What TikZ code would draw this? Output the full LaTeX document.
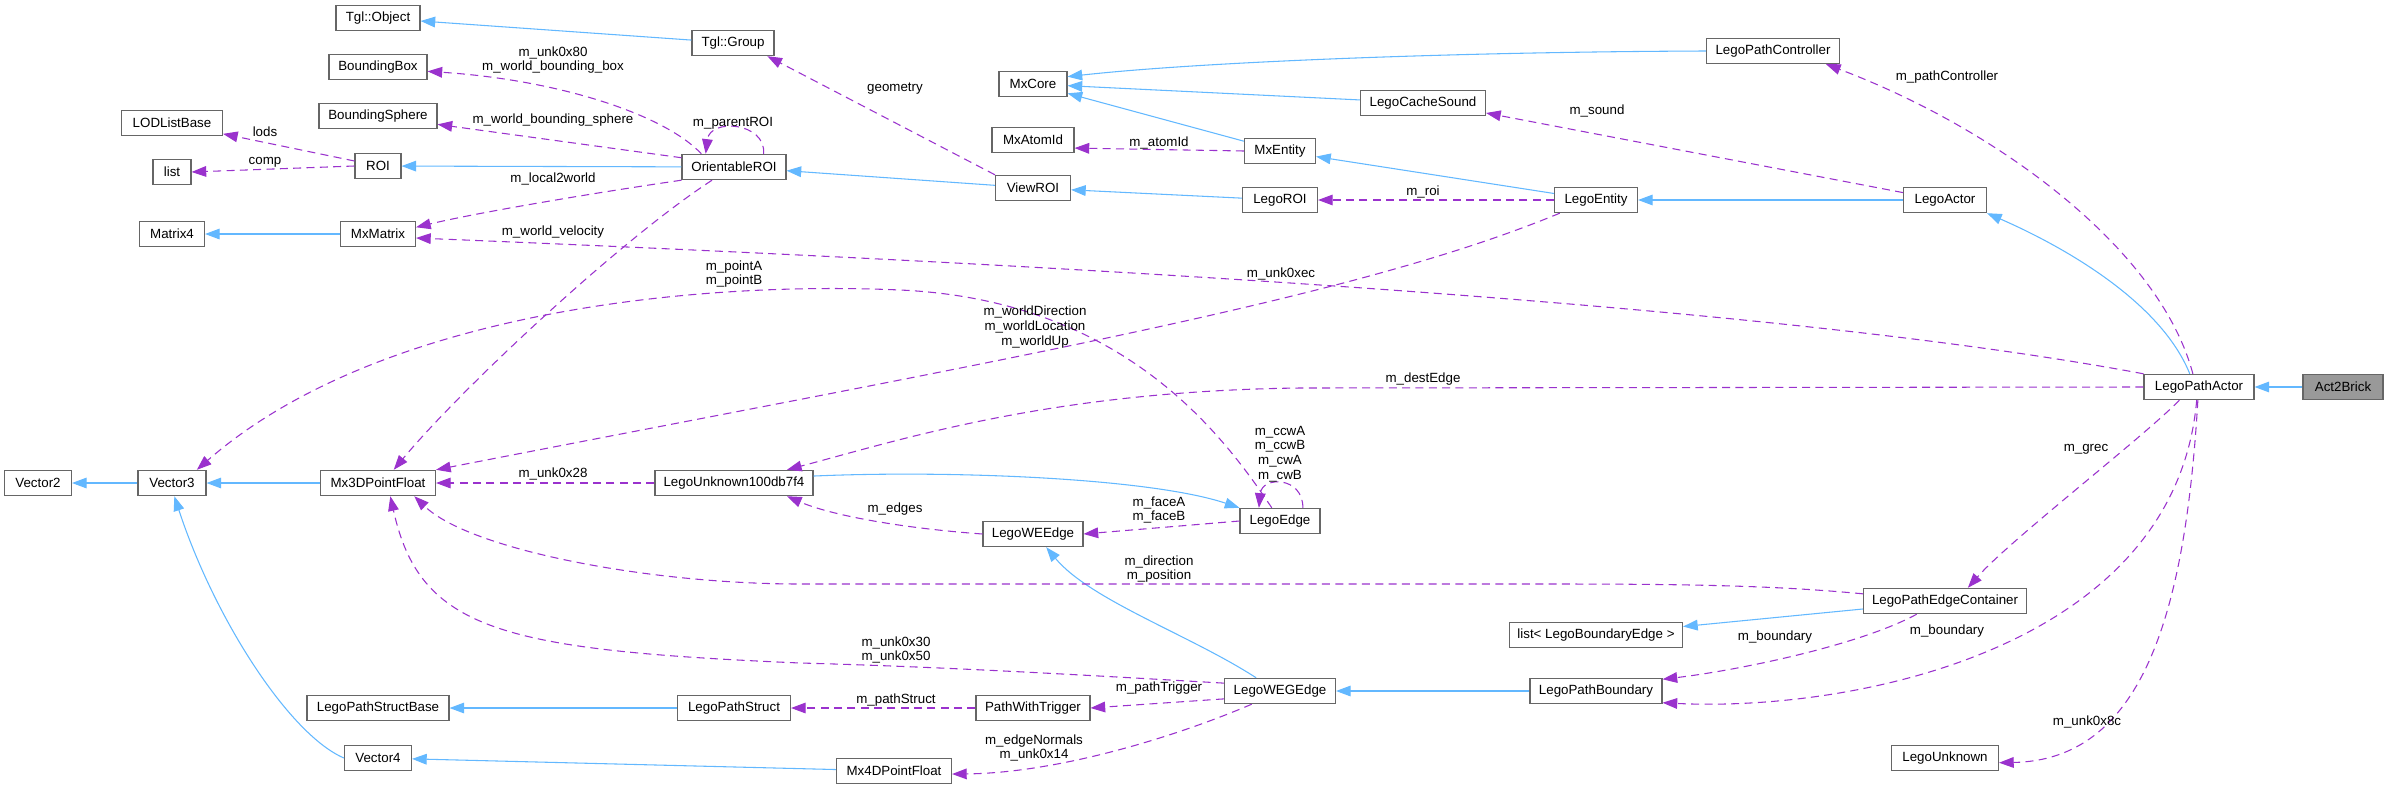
\documentclass[tikz,border=0pt]{standalone}
\usepackage{fontspec}
\setmainfont{Liberation Sans}
\usepackage{tikz}
\usetikzlibrary{arrows.meta}
\definecolor{edgeblue}{HTML}{63B8FF}
\definecolor{edgepurple}{HTML}{9A32CD}
\definecolor{boxgray}{HTML}{666666}
\definecolor{curgray}{HTML}{999999}
\tikzset{
  classnode/.style = {rectangle, draw=boxgray, fill=white, inner sep=0pt,
    align=center, font=\fontsize{10}{12}\selectfont,
    minimum height=19pt, minimum width=#1*0.75pt},
  classnode_cur/.style = {classnode=#1, fill=curgray},% the documented class
  inh/.style = {draw=edgeblue},% base class
  memb/.style = {draw=edgepurple, dash pattern=on 6pt off 4pt},% member
  elabel/.style = {font=\fontsize{10}{11}\selectfont, align=center,
    inner sep=0pt}
}
\begin{document}
\begin{tikzpicture}[x=0.75pt, y=-0.75pt, line width=0.8pt,
  ->, >={Triangle[length=11pt,width=8pt]}]
\useasboundingbox (0,0) rectangle (2387,789);
% classes
\node [classnode=84]  (tglobject)   at (378,18)  {Tgl::Object};
\node [classnode=82]  (tglgroup)    at (733,43)  {Tgl::Group};
\node [classnode=98]  (boundingbox) at (378,67)  {BoundingBox};
\node [classnode=118] (boundingsphere) at (378,116) {BoundingSphere};
\node [classnode=101] (lodlistbase) at (172,123) {LODListBase};
\node [classnode=38]  (list)        at (172,172) {list};
\node [classnode=46]  (roi)         at (378,166) {ROI};
\node [classnode=104] (orientableroi) at (734,167) {OrientableROI};
\node [classnode=65]  (matrix4)     at (172,234) {Matrix4};
\node [classnode=75]  (mxmatrix)    at (378,234) {MxMatrix};
\node [classnode=67]  (vector2)     at (38,483)  {Vector2};
\node [classnode=68]  (vector3)     at (172,483) {Vector3};
\node [classnode=115] (mx3d)        at (378,483) {Mx3DPointFloat};
\node [classnode=158] (legounk100)  at (734,483) {LegoUnknown100db7f4};
\node [classnode=142] (legopathstructbase) at (378,708) {LegoPathStructBase};
\node [classnode=113] (legopathstruct) at (734,708) {LegoPathStruct};
\node [classnode=67]  (vector4)     at (378,758) {Vector4};
\node [classnode=68]  (mxcore)      at (1033,84) {MxCore};
\node [classnode=125] (legocachesound) at (1423,103) {LegoCacheSound};
\node [classnode=82]  (mxatomid)    at (1033,140) {MxAtomId};
\node [classnode=71]  (mxentity)    at (1280,151) {MxEntity};
\node [classnode=75]  (viewroi)     at (1033,188) {ViewROI};
\node [classnode=75]  (legoroi)     at (1280,200) {LegoROI};
\node [classnode=83]  (legoentity)  at (1596,200) {LegoEntity};
\node [classnode=133] (legopathcontroller) at (1773,51) {LegoPathController};
\node [classnode=83]  (legoactor)   at (1945,200) {LegoActor};
\node [classnode=110] (legopathactor) at (2199,387) {LegoPathActor};
\node [classnode_cur=80] (act2brick) at (2343,387) {Act2Brick};
\node [classnode=80]  (legoedge)    at (1280,521) {LegoEdge};
\node [classnode=100] (legoweedge)  at (1033,534) {LegoWEEdge};
\node [classnode=173] (listlbe)     at (1596,635) {list< LegoBoundaryEdge >};
\node [classnode=111] (legowegedge) at (1280,691) {LegoWEGEdge};
\node [classnode=114] (pathwithtrigger) at (1033,708) {PathWithTrigger};
\node [classnode=115] (mx4d)        at (894,771) {Mx4DPointFloat};
\node [classnode=132] (legopathboundary) at (1596,691) {LegoPathBoundary};
\node [classnode=163] (legopathedgecontainer) at (1945,601) {LegoPathEdgeContainer};
\node [classnode=107] (legounknown) at (1945,758) {LegoUnknown};
% inheritance
\draw [inh] (tglgroup) -- (tglobject);
\draw [inh] (orientableroi) -- (roi);
\draw [inh] (mxmatrix) -- (matrix4);
\draw [inh] (vector3) -- (vector2);
\draw [inh] (mx3d) -- (vector3);
\draw [inh] (vector4.west) .. controls (290,735) and (215,620) .. (vector3.-80);
\draw [inh] (legopathstruct) -- (legopathstructbase);
\draw [inh] (mx4d) -- (vector4);
\draw [inh] (viewroi) -- (orientableroi);
\draw [inh] (legoroi) -- (viewroi);
\draw [inh] (mxentity) -- (mxcore);
\draw [inh] (legocachesound) -- (mxcore);
\draw [inh] (legopathcontroller.west) .. controls (1450,52) and (1200,62) .. (mxcore.12);
\draw [inh] (legoentity) -- (mxentity);
\draw [inh] (legoactor) -- (legoentity);
\draw [inh] (legopathactor.125) .. controls (2160,300) and (2060,245) .. (legoactor.south east);
\draw [inh] (act2brick) -- (legopathactor);
\draw [inh] (legounk100.5) .. controls (950,470) and (1150,478) .. (legoedge.north west);
\draw [inh] (legowegedge.151) .. controls (1190,635) and (1090,600) .. (legoweedge.-45);
\draw [inh] (legopathboundary) -- (legowegedge);
\draw [inh] (legopathedgecontainer) -- (listlbe);
% members
\draw [memb] (orientableroi.158) .. controls (665,115) and (560,80) .. (boundingbox.-5);
\draw [memb] (orientableroi.170) -- (boundingsphere.-8);
\draw [memb] (orientableroi.24) .. controls (766,122) and (710,118) .. (orientableroi.155);
\draw [memb] (roi.168) -- (lodlistbase.-12);
\draw [memb] (roi.west) -- (list.east);
\draw [memb] (orientableroi.south west) .. controls (600,192) and (480,212) .. (mxmatrix.10);
\draw [memb] (orientableroi.-149) .. controls (620,240) and (460,390) .. (mx3d.40);
\draw [memb] (legopathactor.north west) .. controls (1750,300) and (1000,262) .. (mxmatrix.-6);
\draw [memb] (legoedge.122) .. controls (1220,430) and (1120,300) .. (900,290)
  .. controls (700,281) and (380,310) .. (vector3.28);
\draw [memb] (viewroi.north west) -- (tglgroup.-21);
\draw [memb] (mxentity.west) -- (mxatomid.-11);
\draw [memb] (legoentity) -- (legoroi);
\draw [memb] (legoactor.170) -- (legocachesound.-9);
\draw [memb] (legopathactor.115) .. controls (2160,250) and (2000,130) .. (legopathcontroller.-14);
\draw [memb] (legoentity.-160) .. controls (1350,300) and (1000,360) .. (mx3d.north east);
\draw [memb] (legopathactor.west) -- (1300,388)
  .. controls (1050,391) and (900,440) .. (legounk100.14);
\draw [memb] (legoedge.30) .. controls (1303,476) and (1262,476) .. (legoedge.148);
\draw [memb] (legounk100) -- (mx3d);
\draw [memb] (legoweedge.west) .. controls (900,528) and (830,515) .. (legounk100.-14);
\draw [memb] (legoedge.west) -- (legoweedge.east);
\draw [memb] (legopathedgecontainer.175) .. controls (1780,586) and (1700,584) .. (1550,584)
  -- (800,584) .. controls (650,584) and (470,550) .. (mx3d.-20);
\draw [memb] (legowegedge.172) .. controls (1100,676) and (950,667) .. (800,663)
  .. controls (500,650) and (420,630) .. (mx3d.-47);
\draw [memb] (legowegedge.-172) -- (pathwithtrigger.east);
\draw [memb] (pathwithtrigger) -- (legopathstruct);
\draw [memb] (legowegedge.-155) .. controls (1180,735) and (1060,773) .. (mx4d.-3);
\draw [memb] (legopathactor.-146) .. controls (2140,440) and (2010,540) .. (legopathedgecontainer.30);
\draw [memb] (legopathedgecontainer.-155) .. controls (1860,645) and (1740,670) .. (legopathboundary.10);
\draw [memb] (legopathactor.-100) .. controls (2175,650) and (1850,712) .. (legopathboundary.-10);
\draw [memb] (legopathactor.-95) .. controls (2185,620) and (2140,760) .. (legounknown.-5);
% member labels
\node [elabel] (l_bbox)     at (553,60)   {m\_unk0x80\\m\_world\_bounding\_box};
\node [elabel] (l_bsphere)  at (553,120)  {m\_world\_bounding\_sphere};
\node [elabel] (l_parent)   at (733,123)  {m\_parentROI};
\node [elabel] (l_lods)     at (265,132)  {lods};
\node [elabel] (l_comp)     at (265,162)  {comp};
\node [elabel] (l_local)    at (553,179)  {m\_local2world};
\node [elabel] (l_velocity) at (553,232)  {m\_world\_velocity};
\node [elabel] (l_unkec)    at (1281,274) {m\_unk0xec};
\node [elabel] (l_points)   at (734,274)  {m\_pointA\\m\_pointB};
\node [elabel] (l_geometry) at (895,89)   {geometry};
\node [elabel] (l_atomid)   at (1159,143) {m\_atomId};
\node [elabel] (l_roi)      at (1423,192) {m\_roi};
\node [elabel] (l_sound)    at (1597,111) {m\_sound};
\node [elabel] (l_pathctl)  at (1947,77)  {m\_pathController};
\node [elabel] (l_world)    at (1035,327) {m\_worldDirection\\m\_worldLocation\\m\_worldUp};
\node [elabel] (l_dest)     at (1423,379) {m\_destEdge};
\node [elabel] (l_ccw)      at (1280,454) {m\_ccwA\\m\_ccwB\\m\_cwA\\m\_cwB};
\node [elabel] (l_unk28)    at (553,474)  {m\_unk0x28};
\node [elabel] (l_edges)    at (895,509)  {m\_edges};
\node [elabel] (l_face)     at (1159,510) {m\_faceA\\m\_faceB};
\node [elabel] (l_dir)      at (1159,569) {m\_direction\\m\_position};
\node [elabel] (l_unk30)    at (896,650)  {m\_unk0x30\\m\_unk0x50};
\node [elabel] (l_trigger)  at (1159,688) {m\_pathTrigger};
\node [elabel] (l_struct)   at (896,700)  {m\_pathStruct};
\node [elabel] (l_normals)  at (1034,748) {m\_edgeNormals\\m\_unk0x14};
\node [elabel] (l_grec)     at (2086,449) {m\_grec};
\node [elabel] (l_bound1)   at (1775,637) {m\_boundary};
\node [elabel] (l_bound2)   at (1947,631) {m\_boundary};
\node [elabel] (l_unk8c)    at (2087,722) {m\_unk0x8c};
\end{tikzpicture}
\end{document}
